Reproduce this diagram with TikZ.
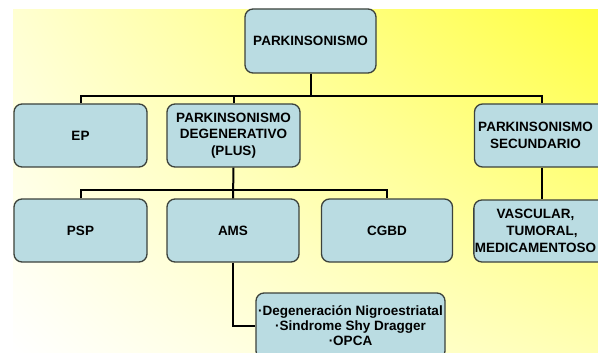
\documentclass[tikz,border=0pt]{standalone}
\usepackage{fontspec}
\setmainfont{Liberation Sans}
\usetikzlibrary{shadings}
\definecolor{boxfill}{RGB}{186,220,226}
\definecolor{boxline}{RGB}{60,66,60}
\newcommand{\myrpad}{\hspace*{13pt}}
\tikzset{
  box/.style={draw=boxline, line width=1.3pt, fill=boxfill, rounded corners=8pt,
    align=center, inner sep=1pt, font=\fontsize{13.5}{16.5}\selectfont\bfseries},
  conn/.style={draw=black, line width=2pt}
}
\begin{document}
\begin{tikzpicture}[x=1pt,y=-1pt]
\useasboundingbox (0,0) rectangle (598,353);
\fill[white] (0,0) rectangle (598,353);
\shade[upper left={yellow!18!white}, upper right={yellow!75!white},
       lower left=white, lower right={yellow!30!white}] (13,10) rectangle (598,353);

\node[box, minimum width=131pt, minimum height=64pt] (top) at (310.5,41) {PARKINSONISMO};
\node[box, minimum width=133pt, minimum height=63pt] (ep) at (80.5,135.5) {EP};
\node[box, minimum width=133pt, minimum height=63pt] (pd) at (233.5,135.5) {PARKINSONISMO\\DEGENERATIVO\\(PLUS)};
\node[box, minimum width=135pt, minimum height=63pt] (ps) at (542,135.5) {PARKINSONISMO\myrpad\\SECUNDARIO\myrpad};
\node[box, minimum width=133pt, minimum height=63pt] (psp) at (80.5,230.5) {PSP};
\node[box, minimum width=132pt, minimum height=63pt] (ams) at (233,230.5) {AMS};
\node[box, minimum width=131pt, minimum height=63pt] (cgbd) at (387,230.5) {CGBD};
\node[box, minimum width=136pt, minimum height=62pt, font=\fontsize{13.5}{17}\selectfont\bfseries] (vas) at (542,231) {VASCULAR,\myrpad\\TUMORAL,\myrpad\\MEDICAMENTOSO\myrpad};
\node[box, minimum width=189pt, minimum height=66pt, font=\fontsize{13.5}{15}\selectfont\bfseries] (low) at (350.5,326) {·Degeneración Nigroestriatal\\·Sindrome Shy Dragger\\·OPCA};

\coordinate (bus1) at (310.5,96);
\coordinate (bus2) at (233,190);
\draw[conn] (top.south) -- (bus1);
\draw[conn] (ep.north) |- (bus1) -| (ps.north);
\draw[conn] (pd.north) -- (pd.north |- bus1);
\draw[conn] (pd.south) -- (ams.north);
\draw[conn] (psp.north) |- (bus2) -| (cgbd.north);
\draw[conn] (ps.south) -- (vas.north);
\draw[conn] (ams.south) |- (low.west);
\end{tikzpicture}
\end{document}
